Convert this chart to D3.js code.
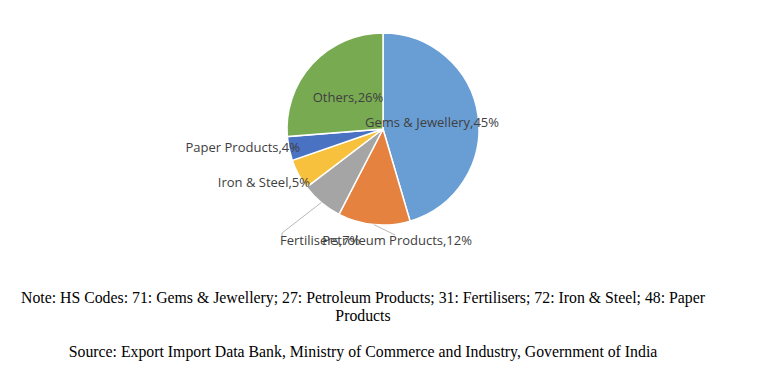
<!DOCTYPE html>
<html>
<head>
<meta charset="utf-8">
<script src="https://cdn.jsdelivr.net/npm/d3@7"></script>
<style>
  body { margin: 0; background: #fff; }
</style>
</head>
<body>
<div id="chart"></div>
<script>
// slice data, clockwise from 12 o'clock
const categories = ["Gems & Jewellery", "Petroleum Products", "Fertilisers", "Iron & Steel", "Paper Products", "Others"];
const shares = [45, 12, 7, 5, 4, 26];
const colors = ["#699ED5", "#E6823F", "#A5A5A5", "#F8C13D", "#4A72C2", "#78AA52"];
const noteLines = [
    "Note: HS Codes: 71: Gems & Jewellery; 27: Petroleum Products; 31: Fertilisers; 72: Iron & Steel; 48: Paper",
    "Products"
];
const sourceLine = "Source: Export Import Data Bank, Ministry of Commerce and Industry, Government of India";

const width = 768, height = 365;
const cx = 383, cy = 129, radius = 96;

const svg = d3.select("#chart").append("svg")
    .attr("width", width)
    .attr("height", height);

const pie = d3.pie().sort(null).value(d => d);
const arcs = pie(shares);
const arc = d3.arc().innerRadius(0).outerRadius(radius);

const g = svg.append("g").attr("transform", `translate(${cx},${cy})`);

g.selectAll("path")
    .data(arcs)
    .enter()
    .append("path")
    .attr("d", arc)
    .attr("fill", (d, i) => colors[i])
    .attr("stroke", "#fff")
    .attr("stroke-width", 1.5);

// label anchors, relative to centre (Excel "best fit" placement)
const labelPos = [
    {x: 49, y: -2, anchor: "middle"},
    {x: 89, y: 116, anchor: "end"},
    {x: -103, y: 116, anchor: "start"},
    {x: -73, y: 58, anchor: "end"},
    {x: -83, y: 23, anchor: "end"},
    {x: -35, y: -27, anchor: "middle"}
];
// leader lines for the two labels pushed outside
const leaders = [
    {i: 1, pts: [[12, 106]]},
    {i: 2, pts: [[-101, 104], [-101, 108]]}
];

leaders.forEach(l => {
    const a = arcs[l.i];
    const mid = (a.startAngle + a.endAngle) / 2;
    const start = [Math.sin(mid) * radius, -Math.cos(mid) * radius];
    g.append("polyline")
        .attr("points", [start, ...l.pts].map(p => p.join(",")).join(" "))
        .attr("fill", "none")
        .attr("stroke", "#A6A6A6")
        .attr("stroke-width", 0.8);
});

g.selectAll("text.lbl")
    .data(arcs)
    .enter()
    .append("text")
    .attr("class", "lbl")
    .attr("x", (d, i) => labelPos[i].x)
    .attr("y", (d, i) => labelPos[i].y)
    .attr("text-anchor", (d, i) => labelPos[i].anchor)
    .style("font-family", "'Liberation Sans Narrow', 'Open Sans', sans-serif")
    .style("font-size", "13px")
    .style("fill", "#404040")
    .text((d, i) => `${categories[i]},${shares[i]}%`);

const notes = svg.append("g")
    .style("font-family", "'Liberation Serif', 'Times New Roman', serif")
    .style("font-size", "15.8px")
    .style("fill", "#000");

noteLines.forEach((t, i) => {
    notes.append("text")
        .attr("x", 363)
        .attr("y", 303 + i * 18)
        .attr("text-anchor", "middle")
        .text(t);
});
notes.append("text")
    .attr("x", 363)
    .attr("y", 357)
    .attr("text-anchor", "middle")
    .text(sourceLine);
</script>
</body>
</html>
